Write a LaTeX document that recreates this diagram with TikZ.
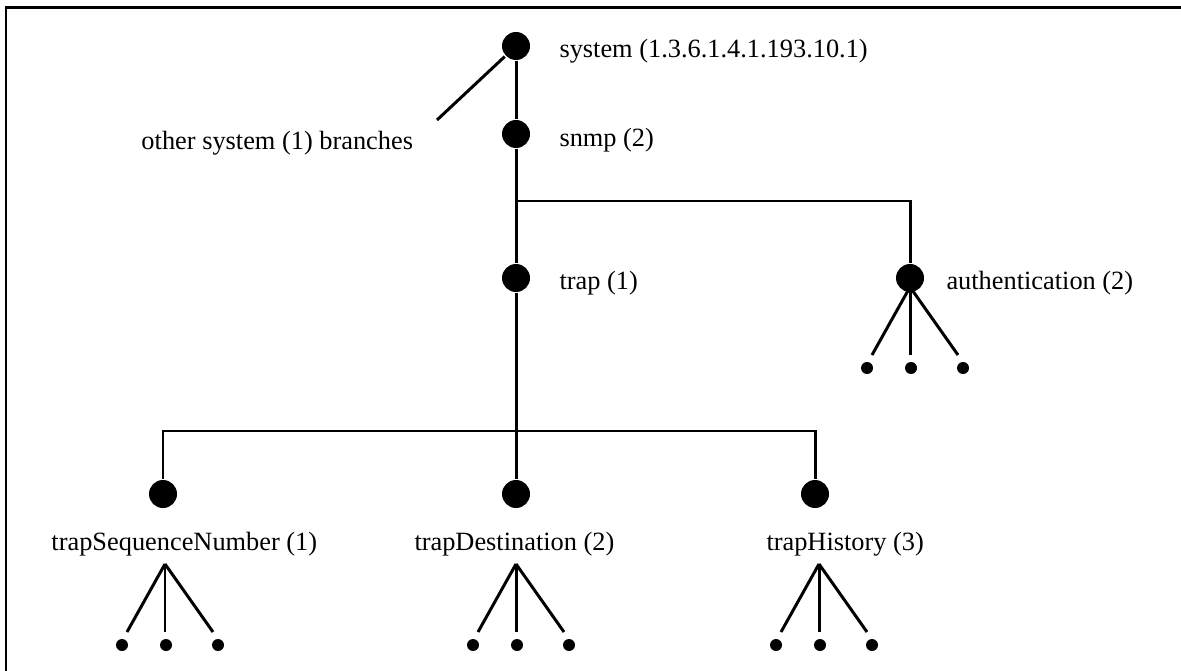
\documentclass[tikz,border=0pt]{standalone}
\usepackage{fontspec}
\setmainfont{Liberation Serif}
\usetikzlibrary{calc}

\tikzset{
    bigdot/.style={circle, fill=black, inner sep=0pt, minimum size=0.56cm},
    leaf/.style={circle, fill=black, inner sep=0pt, minimum size=0.24cm},
    oidtext/.style={inner sep=0pt, font=\fontsize{15}{18}\selectfont},
    branch/.style={line width=1.7pt}
}

\begin{document}
\begin{tikzpicture}[x=0.2mm, y=-0.2mm, branch]
        \useasboundingbox (0,0) rectangle (1181,671);

        % Frame - top and left edge only
        \draw (6,671) -- (6,7.5) -- (1181,7.5);

        % system and snmp
        \node[bigdot] (sys) at (516,46) {};
        \node[oidtext, anchor=base west] (syslbl) at (558,58) {system (1.3.6.1.4.1.193.10.1)};
        \node[bigdot] (snmp) at (516,134) {};
        \node[oidtext, anchor=base west] (snmplbl) at (558,147) {snmp (2)};

        % Other branches of system
        \coordinate (otherend) at (437,120);
        \node[oidtext, anchor=base west] (otherlbl) at (140,150) {other system (1) branches};
        \draw (sys) -- (otherend);
        \draw (sys) -- (snmp);

        % trap and authentication
        \node[bigdot] (trap) at (516,278) {};
        \node[oidtext, anchor=base west] (traplbl) at (558,290) {trap (1)};
        \node[bigdot] (auth) at (910,278) {};
        \node[oidtext, anchor=base west] (authlbl) at (945,290) {authentication (2)};
        \coordinate (split1) at (516,201);
        \draw (snmp) -- (trap);
        \draw (split1) -| (auth);

        % Children of trap
        \node[bigdot] (seqnum) at (163,494) {};
        \node[bigdot] (dest) at (516,494) {};
        \node[bigdot] (hist) at (815,494) {};
        \node[oidtext, anchor=base west] (seqlbl) at (50,550) {trapSequenceNumber (1)};
        \node[oidtext, anchor=base west] (destlbl) at (413,550) {trapDestination (2)};
        \node[oidtext, anchor=base west] (histlbl) at (765,550) {trapHistory (3)};
        \coordinate (split2) at (516,431);
        \draw (trap) -- (dest);
        \draw (seqnum) |- (split2) -| (hist);

        % Fans of leaves
        \coordinate (seqfan) at (165,564);
        \coordinate (destfan) at (516,564);
        \coordinate (histfan) at (819,564);
        \coordinate (authfan) at (910,287);
        \foreach \f in {seqfan,destfan,histfan,authfan} {
            \foreach \dx/\lx [count=\i] in {-38/-43, 0/1, 48/53} {
                \coordinate (\f-end\i) at ($(\f)+(\dx,68)$);
                \node[leaf] (\f-leaf\i) at ($(\f)+(\lx,81)$) {};
                \draw (\f) -- (\f-end\i);
            }
        }

    \end{tikzpicture}
\end{document}
